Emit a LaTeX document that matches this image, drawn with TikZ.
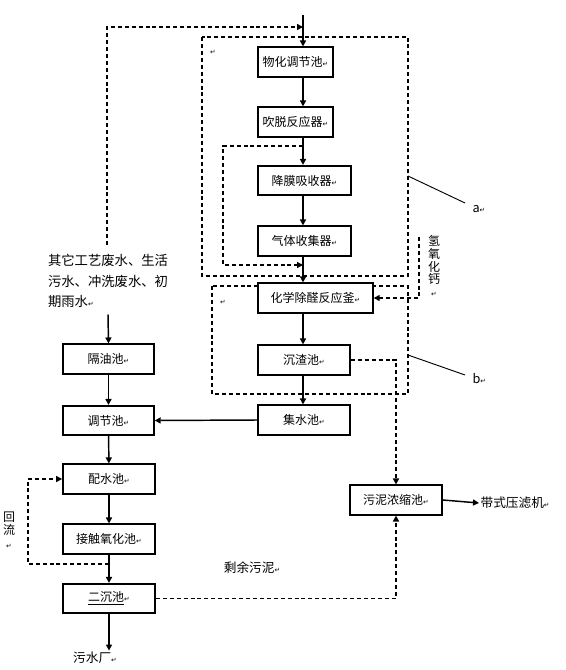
\documentclass[tikz,border=0pt]{standalone}
\usepackage{fontspec}
\setmainfont{Noto Sans CJK SC}
\newfontfamily\symfont{DejaVu Sans}
\usetikzlibrary{arrows.meta}
\newcommand{\retsym}{{\symfont\fontsize{5}{5}\selectfont ↵}}

\begin{document}
\begin{tikzpicture} [
	   x=0.75pt, y=-0.75pt,
	   block/.style    = { rectangle, draw=black, line width=1.3pt, fill=white, inner sep=0pt,
	                            minimum height=22pt, font=\fontsize{9}{10}\selectfont },
	   line/.style     = { draw, line width=1.1pt, -{Triangle[length=4.5pt,width=4.5pt]} },
	   dline/.style    = { line, dash pattern=on 3pt off 2.2pt },
	   dbox/.style     = { draw, line width=1pt, dash pattern=on 3pt off 2.2pt },
	   label/.style    = { inner sep=1pt, font=\fontsize{9.5}{11}\selectfont },
	 ]
	  \useasboundingbox (0,0) rectangle (565,670);

	  % dashed groups a and b
	  \draw[dbox] (202,37) rectangle (408,276);
	  \draw[dbox] (212,286) rectangle (408,394);

	  % right column
	  \coordinate (in) at (303,15);
	  \node [block, minimum width=56pt] (wh) at (295.5,62)  {物化调节池\retsym};
	  \node [block, minimum width=56pt] (cs) at (295.5,122) {吹脱反应器\retsym};
	  \node [block, minimum width=70pt] (jm) at (304.5,180.5) {降膜吸收器\retsym};
	  \node [block, minimum width=70pt] (qt) at (304.5,241) {气体收集器\retsym};
	  \node [block, minimum width=86pt] (hx) at (315.5,298) {化学除醛反应釜\retsym};
	  \node [block, minimum width=69pt] (cz) at (304,360) {沉渣池\retsym};
	  \node [block, minimum width=69pt] (js) at (304,420) {集水池\retsym};
	  \node [block, minimum width=69pt] (wn) at (396,500) {污泥浓缩池\retsym};

	  % left column
	  \node [label, align=left, font=\fontsize{10}{15.5}\selectfont] (src) at (108,281)
	        {其它工艺废水、生活\\污水、冲洗废水、初\\期雨水\retsym};
	  \node [block, minimum width=68pt] (gy) at (108.5,359) {隔油池\retsym};
	  \node [block, minimum width=68pt] (tj) at (108.5,420.5) {调节池\retsym};
	  \node [block, minimum width=69pt] (ps) at (109,479) {配水池\retsym};
	  \node [block, minimum width=69pt] (jc) at (109,539) {接触氧化池\retsym};
	  \node [block, minimum width=69pt] (ec) at (109,598.5) {\underline{二沉池}\retsym};
	  \node [label] (out) at (95,658) {污水厂\retsym};

	  % side labels
	  \node [label, anchor=west] (bf) at (479,503) {带式压滤机\retsym};
	  \node [label] (sy) at (252,568) {剩余污泥\retsym};
	  \node [label, align=center, font=\fontsize{9}{9.7}\selectfont] (ca) at (434,266) {氢\\氧\\化\\钙\\\retsym};
	  \node [label, align=center, font=\fontsize{9}{10}\selectfont] (hl) at (9,530) {回\\流\\\retsym};
	  \node [label, anchor=west] (la) at (471,209) {a\retsym};
	  \node [label, anchor=west] (lb) at (471,379) {b\retsym};
	  \node [inner sep=0pt] (m1) at (213,52) {\retsym};
	  \node [inner sep=0pt] (m2) at (223,302) {\retsym};

	  % pointers to the groups
	  \coordinate (ae) at (408,176);
	  \coordinate (be) at (408,355);
	  \draw [line width=0.7pt] (ae) -- (465,203);
	  \draw [line width=0.7pt] (be) -- (465,375);

	  % main flow
	  \draw[line] (in) -- (in |- wh.north);
	  \draw[line] (wh.south -| in) -- (cs.north -| in);
	  \draw[line] (cs.south -| in) -- (jm.north -| in);
	  \draw[line] (jm.south -| in) -- (qt.north -| in);
	  \draw[line] (qt.south -| in) -- (hx.north -| in);
	  \draw[line] (hx.south -| in) -- (cz.north -| in);
	  \draw[line] (cz.south -| in) -- (js.north -| in);
	  \draw[line] (js.west) -- (tj.east);
	  \draw[line] (wn.east) -- (bf.west);
	%
	  \draw[line] (src.south) ++(0,5) -- (gy.north);
	  \draw[line] (gy) -- (tj);
	  \draw[line] (tj) -- (ps);
	  \draw[line] (ps) -- (jc);
	  \draw[line] (jc) -- (ec);
	  \draw[line] (ec.south) -- (ec.south |- out.north);

	  % dashed returns
	  \coordinate (fb) at (107,245);
	  \coordinate (jn) at (303,27);
	  \draw[dline] (fb) |- (jn);
	  \coordinate (lp) at (303,146);
	  \coordinate (lpe) at (303,265);
	  \draw[dline] (lp) -- ++(-80,0) |- (lpe);
	  \coordinate (cah) at (419,237);
	  \draw[dline] (cah) |- (hx.east);
	  \draw[dline] (cz.east) -| (wn.north);
	  \draw[dline] (ec.east) -| (wn.south);
	  \coordinate (split) at (109,564);
	  \draw[dline] (split) -- ++(-81,0) |- (ps.west);
	\end{tikzpicture}
\end{document}
